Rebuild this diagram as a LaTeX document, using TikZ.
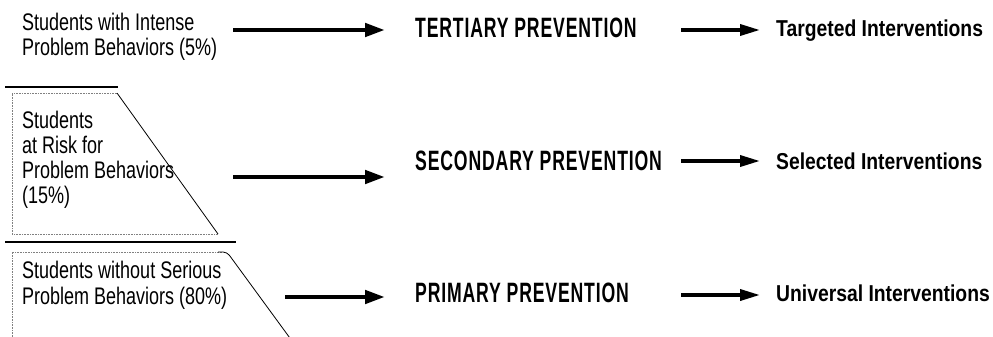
\documentclass[tikz,border=0pt]{standalone}
\usepackage{fontspec}
\usetikzlibrary{arrows.meta,positioning,calc}

\newfontfamily\groupfont[FakeStretch=0.75]{Liberation Sans}
\newfontfamily\levelfont[FakeStretch=0.63,LetterSpace=3]{Liberation Sans}
\newfontfamily\actionfont[FakeStretch=0.84]{Liberation Sans}

\begin{document}
\begin{tikzpicture}[x=1pt,y=-1pt,
        group/.style={anchor=north west,align=left,inner sep=0pt,font=\groupfont\fontsize{24}{25}\selectfont},
        level/.style={anchor=base west,inner sep=0pt,font=\levelfont\bfseries\fontsize{28}{28}\selectfont},
        action/.style={anchor=base west,inner sep=0pt,font=\actionfont\bfseries\fontsize{23}{25}\selectfont},
        bigarrow/.style={line width=4.5pt,-{Triangle[length=20pt,width=13pt]}},
        smallarrow/.style={line width=3.5pt,-{Triangle[length=20pt,width=11pt]}},
        tierline/.style={line width=2.2pt},
        tierbox/.style={draw=black!50,densely dotted,line width=0.6pt},
        tieredge/.style={line width=0.8pt}]

        % -----------
        % Parameters.
        % -----------

        \pgfmathsetmacro{\xText}{22}        % x-position of group texts.
        \pgfmathsetmacro{\xLevel}{415}      % x-position of prevention levels.
        \pgfmathsetmacro{\xAction}{776}     % x-position of interventions.
        \pgfmathsetmacro{\xSmall}{681}      % x-position of small arrow start.
        \pgfmathsetmacro{\gapBig}{30}       % Gap between big arrow tip and level.
        \pgfmathsetmacro{\gapSmall}{16}     % Gap between small arrow tip and intervention.

        % Frame.
        \useasboundingbox(0,0)rectangle(993,337);
        \clip(0,0)rectangle(993,337);

        % --------
        % Drawing.
        % --------

        % Pyramid cut lines.
        \draw[tierline](5,87)--(118,87);
        \draw[tierline](5,242)--(236,242);

        % Middle tier of pyramid.
        \draw[tierbox](117,93)--(12,93)--(12,234)--(218,234);
        \draw[tieredge](117,93)--(218,234);

        % Bottom tier of pyramid.
        \draw[tierbox](12,345)--(12,252)--(222,252);
        \draw[tieredge,rounded corners=4pt](218,252)--(227,252)--(295,345);

        % Student groups.
        \node[group](g1)at(\xText,12.5){Students with Intense\\Problem Behaviors (5\%)};
        \node[group](g2)at(\xText,110.5){Students\\at Risk for\\Problem Behaviors\\(15\%)};
        \node[group,font=\groupfont\fontsize{24}{26}\selectfont](g3)at(\xText,260.5){Students without Serious\\Problem Behaviors (80\%)};

        % Prevention levels.
        \node[level](h1)at(\xLevel,38){TERTIARY PREVENTION};
        \node[level](h2)at(\xLevel,170){SECONDARY PREVENTION};
        \node[level](h3)at(\xLevel,302){PRIMARY PREVENTION};

        % Interventions.
        \node[action](r1)at(\xAction,37){Targeted Interventions};
        \node[action](r2)at(\xAction,169){Selected Interventions};
        \node[action](r3)at(\xAction,301){Universal Interventions};

        % Arrow start points.
        \coordinate(a1)at(233,30);
        \coordinate(a2)at(233,177);
        \coordinate(a3)at(285,297);
        \coordinate(s1)at(\xSmall,30);
        \coordinate(s2)at(\xSmall,161);
        \coordinate(s3)at(\xSmall,295);

        % Group to level arrows.
        \draw[bigarrow,shorten >=\gapBig pt](a1)--(a1-|h1.west);
        \draw[bigarrow,shorten >=\gapBig pt](a2)--(a2-|h2.west);
        \draw[bigarrow,shorten >=\gapBig pt](a3)--(a3-|h3.west);

        % Level to intervention arrows.
        \draw[smallarrow,shorten >=\gapSmall pt](s1)--(s1-|r1.west);
        \draw[smallarrow,shorten >=\gapSmall pt](s2)--(s2-|r2.west);
        \draw[smallarrow,shorten >=\gapSmall pt](s3)--(s3-|r3.west);

    \end{tikzpicture}
\end{document}
